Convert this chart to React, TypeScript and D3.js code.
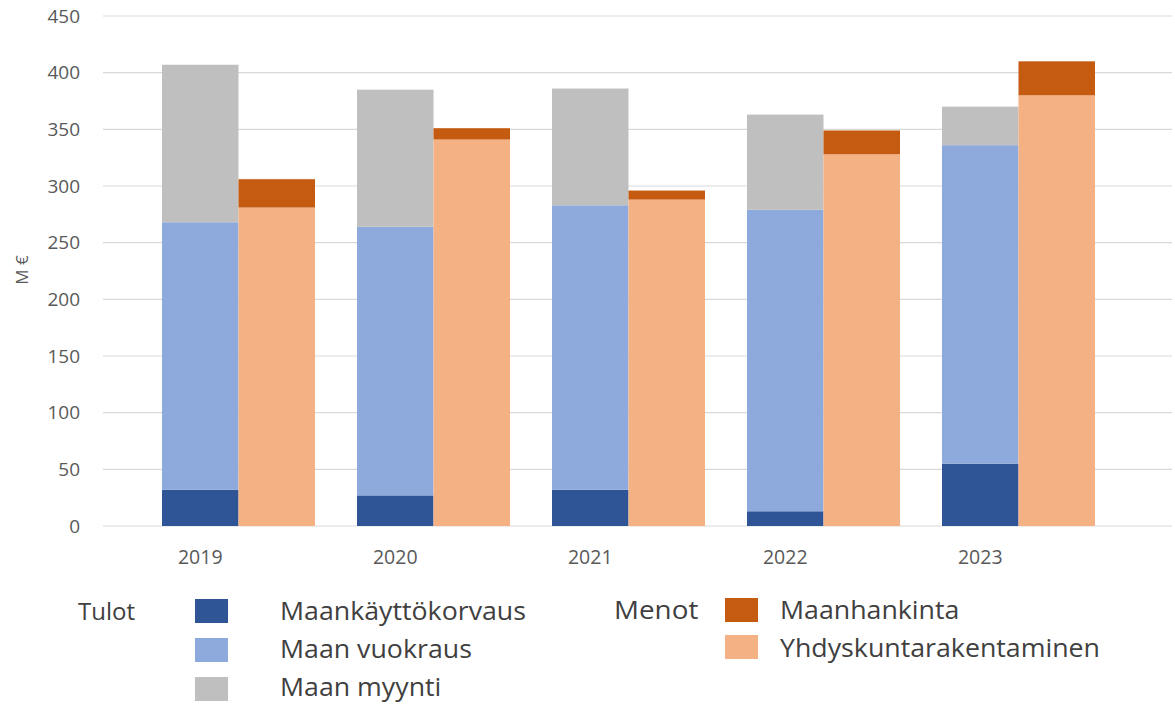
import React from "react";
import * as d3 from "d3";

const years = ["2019", "2020", "2021", "2022", "2023"];
const maankayttokorvaus = [32, 27, 32, 13, 55];
const maanVuokraus = [236, 237, 251, 266, 281];
const maanMyynti = [139, 121, 103, 84, 34];
const yhdyskuntarakentaminen = [281, 341, 288, 328, 380];
const maanhankinta = [25, 10, 8, 21, 30];
const yTicks = [0, 50, 100, 150, 200, 250, 300, 350, 400, 450];

const tulotKeys = ["Maankäyttökorvaus", "Maan vuokraus", "Maan myynti"];
const menotKeys = ["Yhdyskuntarakentaminen", "Maanhankinta"];
const colors: Record<string, string> = {
  "Maankäyttökorvaus": "#2F5597",
  "Maan vuokraus": "#8EA9DB",
  "Maan myynti": "#BFBFBF",
  "Maanhankinta": "#C55A11",
  "Yhdyskuntarakentaminen": "#F4B183",
};

const W = 1175;
const H = 704;
const FONT = "'Open Sans', sans-serif";

export default function App() {
  const tulotRows = years.map((y, i) => ({
    year: y,
    "Maankäyttökorvaus": maankayttokorvaus[i],
    "Maan vuokraus": maanVuokraus[i],
    "Maan myynti": maanMyynti[i],
  }));
  const menotRows = years.map((y, i) => ({
    year: y,
    "Yhdyskuntarakentaminen": yhdyskuntarakentaminen[i],
    "Maanhankinta": maanhankinta[i],
  }));
  const tulotStack = d3.stack<any>().keys(tulotKeys)(tulotRows);
  const menotStack = d3.stack<any>().keys(menotKeys)(menotRows);

  const x0 = d3
    .scaleBand()
    .domain(years)
    .range([141, 1116])
    .paddingInner(0.2154)
    .paddingOuter(0.1077);
  const x1 = d3
    .scaleBand()
    .domain(["Tulot", "Menot"])
    .range([0, x0.bandwidth()])
    .padding(0);
  const y = d3.scaleLinear().domain([0, 450]).range([526, 16]);

  const gridX0 = 103;
  const gridX1 = 1172;

  const renderStack = (series: any[], group: string) =>
    series.map((s) => (
      <g key={s.key} fill={colors[s.key]}>
        {s.map((d: any, i: number) => (
          <rect
            key={i}
            x={(x0(d.data.year) as number) + (x1(group) as number)}
            width={x1.bandwidth()}
            y={y(d[1])}
            height={y(d[0]) - y(d[1])}
          />
        ))}
      </g>
    ));

  const legendTulot = tulotKeys;
  const legendMenot = ["Maanhankinta", "Yhdyskuntarakentaminen"];
  const sx = 1.07;

  return (
    <svg
      width={W}
      height={H}
      style={{ position: "absolute", left: 0, top: 0, background: "#fff" }}
      fontFamily={FONT}
    >
      <rect width={W} height={H} fill="#fff" />
      {yTicks.map((t) => (
        <g key={t}>
          <line
            x1={gridX0}
            x2={gridX1}
            y1={y(t)}
            y2={y(t)}
            stroke="#D9D9D9"
            strokeWidth={1.2}
          />
          <text
            x={80}
            y={y(t)}
            dy="0.35em"
            textAnchor="end"
            fontSize={19}
            fill="#595959"
          >
            {t}
          </text>
        </g>
      ))}
      <text
        transform={`translate(28,${270}) rotate(-90)`}
        textAnchor="middle"
        fontSize={17}
        fill="#595959"
      >
        M €
      </text>
      {renderStack(tulotStack, "Tulot")}
      {renderStack(menotStack, "Menot")}
      {years.map((yr) => (
        <text
          key={yr}
          x={(x0(yr) as number) + (x1("Tulot") as number) + x1.bandwidth() / 2}
          y={564}
          textAnchor="middle"
          fontSize={19.5}
          fill="#595959"
        >
          {yr}
        </text>
      ))}
      {/* Legend */}
      <text x={78} y={620} fontSize={24} fill="#404040">
        Tulot
      </text>
      {legendTulot.map((k, i) => (
        <g key={k}>
          <rect x={195} y={599 + i * 39} width={33} height={24} fill={colors[k]} />
          <text
            transform={`translate(280,${620 + i * 38}) scale(${sx},1)`}
            fontSize={25}
            fill="#404040"
          >
            {k}
          </text>
        </g>
      ))}
      <text
        transform={`translate(614,619) scale(${sx},1)`}
        fontSize={26}
        fill="#404040"
      >
        Menot
      </text>
      {legendMenot.map((k, i) => (
        <g key={k}>
          <rect x={725} y={598 + i * 37} width={33} height={24} fill={colors[k]} />
          <text
            transform={`translate(780,${619 + i * 38}) scale(${sx},1)`}
            fontSize={25}
            fill="#404040"
          >
            {k}
          </text>
        </g>
      ))}
    </svg>
  );
}
